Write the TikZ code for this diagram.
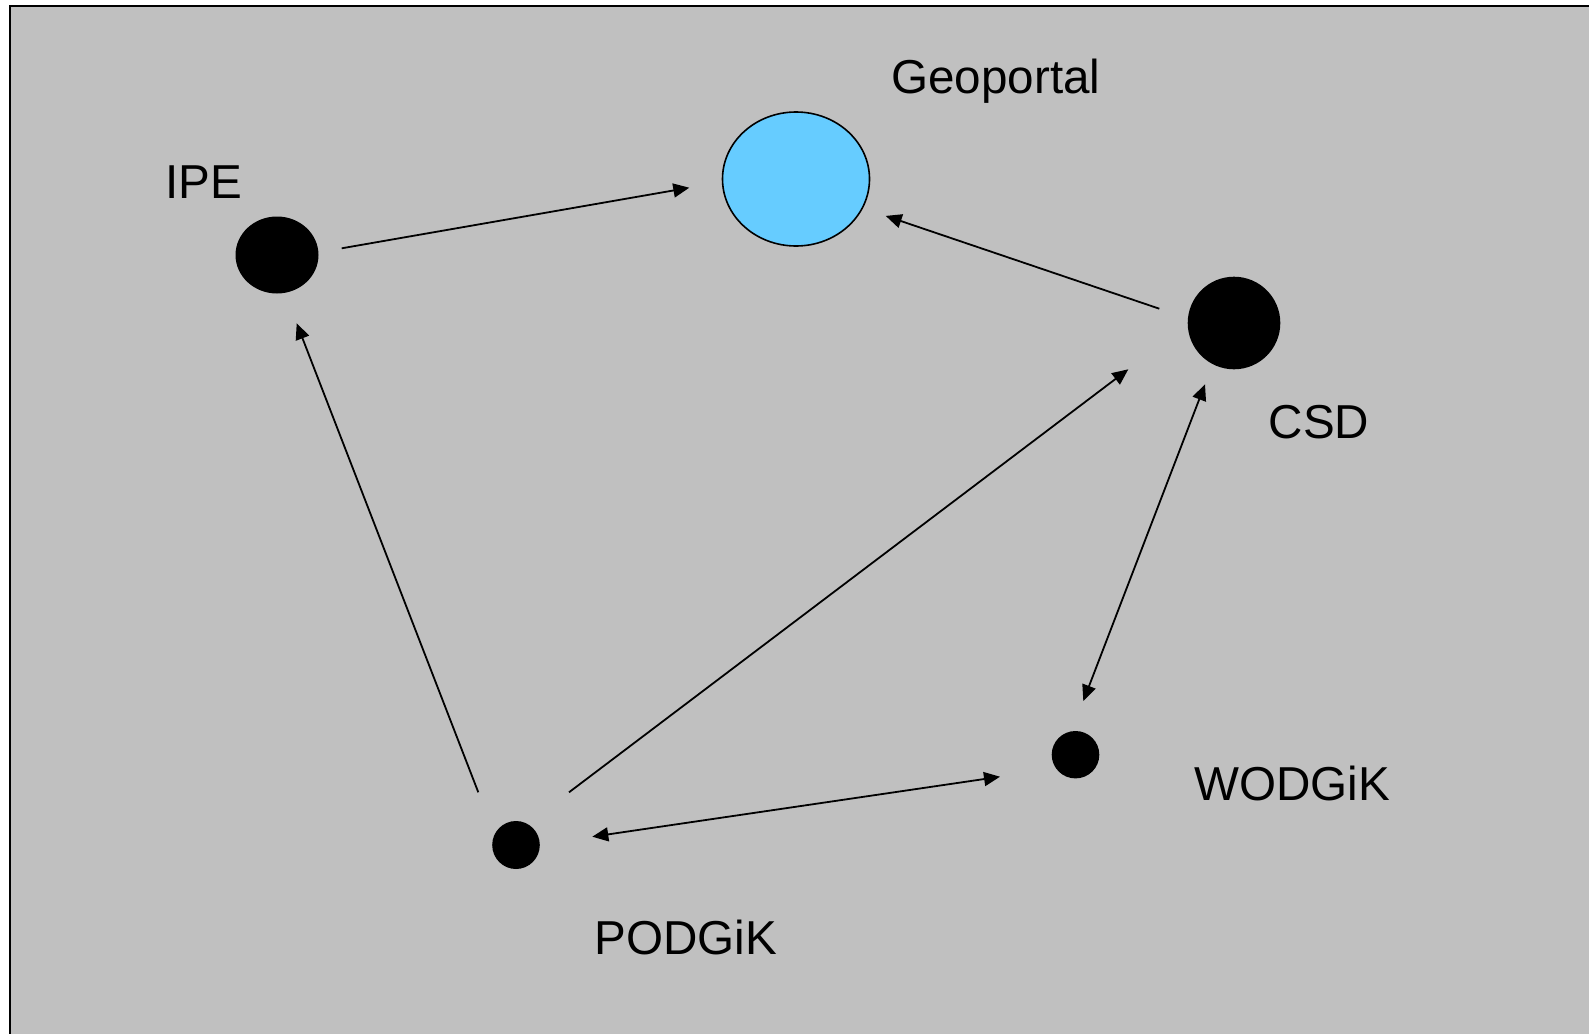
\documentclass[tikz,border=0pt]{standalone}
\usepackage{fontspec}
\setmainfont{Liberation Sans}
\usetikzlibrary{arrows.meta,shapes.geometric}
\definecolor{bggrey}{HTML}{C0C0C0}
\definecolor{geoblue}{HTML}{66CCFF}
\tikzset{
  dot/.style={ellipse, fill=black, inner sep=0pt},
  lbl/.style={inner sep=0pt, anchor=base, font=\fontsize{23.8}{28}\selectfont},
  link/.style={line width=0.9pt, -{Triangle[length=8pt,width=7pt]}},
  duallink/.style={line width=0.9pt, {Triangle[length=8pt,width=7pt]}-{Triangle[length=8pt,width=7pt]}}
}
\begin{document}
\begin{tikzpicture}[x=0.5pt,y=-0.5pt]
\useasboundingbox (0,0) rectangle (1589,1033);
\fill[white] (0,0) rectangle (1589,1033);
\filldraw[fill=bggrey, draw=black, line width=1.2pt] (9.7,6) rectangle (1620,1060);

% nodes
\node[dot, minimum width=41.5pt, minimum height=38.5pt] (ipe) at (277,255) {};
\node[ellipse, fill=geoblue, draw=black, line width=0.8pt, inner sep=0pt,
      minimum width=73.5pt, minimum height=67pt] (geo) at (796,179) {};
\node[dot, minimum width=46.3pt, minimum height=46.3pt] (csd) at (1234,323) {};
\node[dot, minimum width=23.8pt, minimum height=23.7pt] (wod) at (1075.5,754.7) {};
\node[dot, minimum width=23.8pt, minimum height=24pt] (pod) at (516,845) {};

% labels
\node[lbl] (ipel) at (204,198.3) {IPE};
\node[lbl] (geol) at (996,93.3) {Geoportal};
\node[lbl] (csdl) at (1319,438.7) {CSD};
\node[lbl] (wodl) at (1292,800.7) {WODGiK};
\node[lbl] (podl) at (685.5,954.3) {PODGiK};

% connector end points (arrows stop short of the nodes)
\coordinate (ipe-geo-a) at (341.7,248.3);
\coordinate (ipe-geo-b) at (689.3,187.7);
\coordinate (csd-geo-a) at (1159.3,308.7);
\coordinate (csd-geo-b) at (885.7,215.9);
\coordinate (pod-ipe-a) at (478.3,792.3);
\coordinate (pod-ipe-b) at (296.7,323.3);
\coordinate (pod-csd-a) at (569,792.3);
\coordinate (pod-csd-b) at (1128.3,369.3);
\coordinate (csd-wod-a) at (1205,384.3);
\coordinate (csd-wod-b) at (1083.3,701);
\coordinate (pod-wod-a) at (592.3,836.7);
\coordinate (pod-wod-b) at (1000,776.7);

% connectors
\draw[link] (ipe-geo-a) -- (ipe-geo-b);
\draw[link] (csd-geo-a) -- (csd-geo-b);
\draw[link] (pod-ipe-a) -- (pod-ipe-b);
\draw[link] (pod-csd-a) -- (pod-csd-b);
\draw[duallink] (csd-wod-a) -- (csd-wod-b);
\draw[duallink] (pod-wod-a) -- (pod-wod-b);
\end{tikzpicture}
\end{document}
